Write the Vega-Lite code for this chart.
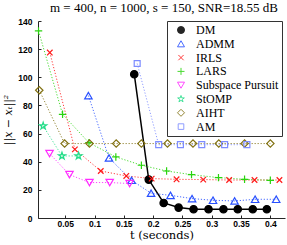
{
  "$schema": "https://vega.github.io/schema/vega-lite/v6.json",
  "width": 247,
  "height": 197,
  "autosize": {"type": "none"},
  "padding": {"left": 38, "top": 21, "right": 2, "bottom": 27},
  "background": "white",
  "title": {
    "text": "m = 400, n = 1000, s = 150, SNR=18.55 dB",
    "font": "Liberation Serif",
    "fontSize": 13,
    "fontWeight": "normal",
    "color": "#000",
    "anchor": "start",
    "frame": "group",
    "dx": 12,
    "offset": 2
  },
  "config": {
    "view": {"stroke": null},
    "axis": {
      "grid": false,
      "domainColor": "#262626",
      "tickColor": "#262626",
      "labelColor": "#000",
      "labelFont": "Liberation Sans",
      "labelFontWeight": "bold",
      "labelFontSize": 8.5,
      "titleFont": "DejaVu Serif",
      "titleFontWeight": "normal",
      "titleFontSize": 11.5,
      "titleColor": "#000",
      "tickSize": -3
    }
  },
  "data": {
    "values": [
      {"method": "DM", "t": 0.1678, "err": 102.2},
      {"method": "DM", "t": 0.1925, "err": 27.3},
      {"method": "DM", "t": 0.218, "err": 10.7},
      {"method": "DM", "t": 0.2435, "err": 7.4},
      {"method": "DM", "t": 0.269, "err": 6.2},
      {"method": "DM", "t": 0.2945, "err": 6.2},
      {"method": "DM", "t": 0.32, "err": 6.2},
      {"method": "DM", "t": 0.3444, "err": 6.2},
      {"method": "DM", "t": 0.37, "err": 6.2},
      {"method": "DM", "t": 0.394, "err": 6.2},
      {"method": "ADMM", "t": 0.0896, "err": 87},
      {"method": "ADMM", "t": 0.1247, "err": 42.7},
      {"method": "ADMM", "t": 0.1633, "err": 26.8},
      {"method": "ADMM", "t": 0.1965, "err": 17.6},
      {"method": "ADMM", "t": 0.2297, "err": 16.1},
      {"method": "ADMM", "t": 0.2665, "err": 13.8},
      {"method": "ADMM", "t": 0.3022, "err": 12.6},
      {"method": "ADMM", "t": 0.339, "err": 12.1},
      {"method": "ADMM", "t": 0.374, "err": 13.3},
      {"method": "ADMM", "t": 0.41, "err": 13.3},
      {"method": "IRLS", "t": 0.0237, "err": 117.6},
      {"method": "IRLS", "t": 0.0665, "err": 48.8},
      {"method": "IRLS", "t": 0.1107, "err": 33.4},
      {"method": "IRLS", "t": 0.1542, "err": 29.9},
      {"method": "IRLS", "t": 0.1975, "err": 28},
      {"method": "IRLS", "t": 0.24, "err": 27.5},
      {"method": "IRLS", "t": 0.2855, "err": 27.3},
      {"method": "IRLS", "t": 0.3297, "err": 27},
      {"method": "IRLS", "t": 0.373, "err": 27},
      {"method": "IRLS", "t": 0.4155, "err": 27},
      {"method": "LARS", "t": 0.0045, "err": 133},
      {"method": "LARS", "t": 0.0455, "err": 73.7},
      {"method": "LARS", "t": 0.0905, "err": 53.5},
      {"method": "LARS", "t": 0.1364, "err": 43.4},
      {"method": "LARS", "t": 0.18, "err": 37.5},
      {"method": "LARS", "t": 0.223, "err": 33.4},
      {"method": "LARS", "t": 0.2655, "err": 30.8},
      {"method": "LARS", "t": 0.3115, "err": 28.7},
      {"method": "LARS", "t": 0.356, "err": 27.5},
      {"method": "LARS", "t": 0.4, "err": 26.8},
      {"method": "Subspace Pursuit", "t": 0.0233, "err": 45.8},
      {"method": "Subspace Pursuit", "t": 0.0573, "err": 30.8},
      {"method": "Subspace Pursuit", "t": 0.0914, "err": 25.2},
      {"method": "Subspace Pursuit", "t": 0.1259, "err": 25.2},
      {"method": "Subspace Pursuit", "t": 0.1599, "err": 24.5},
      {"method": "StOMP", "t": 0.0124, "err": 65.4},
      {"method": "StOMP", "t": 0.0445, "err": 44.1},
      {"method": "StOMP", "t": 0.0727, "err": 44.1},
      {"method": "AIHT", "t": 0.0058, "err": 90.8},
      {"method": "AIHT", "t": 0.049, "err": 52.9},
      {"method": "AIHT", "t": 0.0914, "err": 52.9},
      {"method": "AIHT", "t": 0.137, "err": 52.9},
      {"method": "AIHT", "t": 0.18, "err": 52.9},
      {"method": "AIHT", "t": 0.2245, "err": 52.9},
      {"method": "AIHT", "t": 0.268, "err": 52.9},
      {"method": "AIHT", "t": 0.312, "err": 52.9},
      {"method": "AIHT", "t": 0.356, "err": 52.9},
      {"method": "AIHT", "t": 0.4, "err": 52.9},
      {"method": "AM", "t": 0.1728, "err": 109.8},
      {"method": "AM", "t": 0.2095, "err": 52.1},
      {"method": "AM", "t": 0.2466, "err": 52.1},
      {"method": "AM", "t": 0.283, "err": 52.1},
      {"method": "AM", "t": 0.322, "err": 52.1},
      {"method": "AM", "t": 0.36, "err": 52.1}
    ]
  },
  "encoding": {
    "x": {
      "field": "t",
      "type": "quantitative",
      "scale": {"domain": [0.0036, 0.425], "nice": false, "zero": false},
      "axis": {
        "title": "t (seconds)",
        "values": [0.05, 0.1, 0.15, 0.2, 0.25, 0.3, 0.35, 0.4],
        "labelExpr": "format(datum.value, '.2~f')",
        "labelPadding": 4,
        "titlePadding": 2
      }
    },
    "y": {
      "field": "err",
      "type": "quantitative",
      "scale": {"domain": [0, 140], "nice": false},
      "axis": {
        "title": "||x − xₜ||²",
        "titleFontStyle": "italic",
        "titleFontSize": 11,
        "values": [0, 20, 40, 60, 80, 100, 120, 140],
        "labelPadding": 9,
        "titlePadding": 4
      }
    }
  },
  "layer": [
    {
      "transform": [{"filter": "datum.method === 'DM'"}],
      "mark": {"type": "line", "strokeWidth": 1.5},
      "encoding": {
        "stroke": {
          "field": "method",
          "type": "nominal",
          "scale": {
            "domain": ["DM", "ADMM", "IRLS", "LARS", "Subspace Pursuit", "StOMP", "AIHT", "AM"],
            "range": ["#000000", "#2850ff", "#ff1a1a", "#2ad40f", "#ff2aff", "#22dd88", "#807010", "#7d8cff"]
          },
          "legend": {
            "title": null,
            "orient": "none",
            "legendX": 129,
            "legendY": 0,
            "padding": 3,
            "rowPadding": 1.8,
            "fillColor": "white",
            "strokeColor": "#333",
            "symbolSize": 49,
            "symbolStrokeWidth": 1,
            "symbolOffset": 5,
            "labelOffset": 9,
            "labelFont": "Liberation Serif",
            "labelFontSize": 12,
            "labelColor": "#000"
          }
        }
      }
    },
    {
      "transform": [{"filter": "datum.method !== 'DM'"}],
      "mark": {"type": "line", "strokeWidth": 1, "strokeDash": [1.2, 1.8], "opacity": 0.85},
      "encoding": {
        "stroke": {
          "field": "method",
          "type": "nominal",
          "scale": {
            "domain": ["DM", "ADMM", "IRLS", "LARS", "Subspace Pursuit", "StOMP", "AIHT", "AM"],
            "range": ["#000000", "#2850ff", "#ff1a1a", "#2ad40f", "#ff2aff", "#22dd88", "#807010", "#7d8cff"]
          }
        }
      }
    },
    {
      "mark": {"type": "point", "size": 55, "strokeWidth": 1.2, "opacity": 1},
      "encoding": {
        "stroke": {
          "field": "method",
          "type": "nominal",
          "scale": {
            "domain": ["DM", "ADMM", "IRLS", "LARS", "Subspace Pursuit", "StOMP", "AIHT", "AM"],
            "range": ["#000000", "#2850ff", "#ff1a1a", "#2ad40f", "#ff2aff", "#22dd88", "#807010", "#7d8cff"]
          }
        },
        "fill": {
          "field": "method",
          "type": "nominal",
          "scale": {
            "domain": ["DM", "ADMM", "IRLS", "LARS", "Subspace Pursuit", "StOMP", "AIHT", "AM"],
            "range": ["#000000", "transparent", "transparent", "transparent", "transparent", "transparent", "transparent", "transparent"]
          }
        },
        "shape": {
          "field": "method",
          "type": "nominal",
          "scale": {
            "domain": ["DM", "ADMM", "IRLS", "LARS", "Subspace Pursuit", "StOMP", "AIHT", "AM"],
            "range": [
              "circle",
              "triangle-up",
              "M-0.75,-0.75L0.75,0.75M-0.75,0.75L0.75,-0.75",
              "M-1,0H1M0,-1V1",
              "triangle-down",
              "M0,-1L0.225,-0.309L0.951,-0.309L0.363,0.118L0.588,0.809L0,0.382L-0.588,0.809L-0.363,0.118L-0.951,-0.309L-0.225,-0.309Z",
              "diamond",
              "M-0.8,-0.8H0.8V0.8H-0.8Z"
            ]
          }
        }
      }
    }
  ]
}
